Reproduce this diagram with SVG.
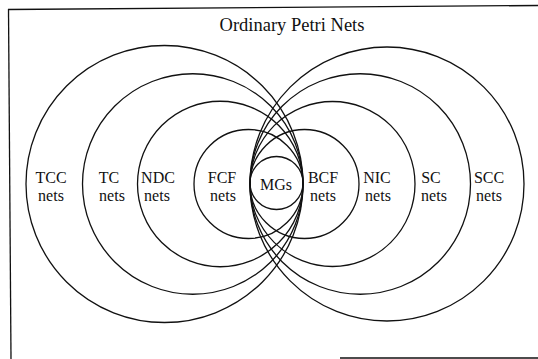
<svg xmlns="http://www.w3.org/2000/svg" width="538" height="359" viewBox="0 0 538 359" font-family="'Liberation Serif', 'DejaVu Serif', serif">
<style>
.c{fill:none;stroke:#111;stroke-width:1.3}
.f{fill:none;stroke:#111;stroke-width:1.3}
text{font-family:'Liberation Serif','DejaVu Serif',serif;font-size:16px;fill:#111;text-anchor:middle}
.t{font-size:18.5px}
</style>
<rect width="538" height="359" fill="#fff"/>
<g id="frame">
<line class="f" x1="8" y1="9.5" x2="538" y2="5.5"/>
<line class="f" x1="8.5" y1="9" x2="11" y2="359"/>
<line class="f" x1="340" y1="358" x2="538" y2="358"/>
<text class="t" x="292" y="31">Ordinary Petri Nets</text>
</g>
<g id="tcc"><circle class="c" cx="164.5" cy="184" r="138.5"/><text x="51" y="183">TCC</text><text x="51" y="201">nets</text></g>
<g id="tc"><circle class="c" cx="192.75" cy="184" r="110.25"/><text x="109" y="183">TC</text><text x="112" y="201">nets</text></g>
<g id="ndc"><circle class="c" cx="220.25" cy="184" r="82.75"/><text x="158" y="183">NDC</text><text x="157" y="201">nets</text></g>
<g id="fcf"><circle class="c" cx="248.5" cy="184" r="54.5"/><text x="222" y="183">FCF</text><text x="223" y="201">nets</text></g>
<g id="bcf"><circle class="c" cx="304.5" cy="184" r="54.5"/><text x="323" y="183">BCF</text><text x="323" y="201">nets</text></g>
<g id="nic"><circle class="c" cx="332.5" cy="184" r="82.5"/><text x="377" y="183">NIC</text><text x="378" y="201">nets</text></g>
<g id="sc"><circle class="c" cx="360.25" cy="184" r="110.25"/><text x="431" y="183">SC</text><text x="434" y="201">nets</text></g>
<g id="scc"><circle class="c" cx="387" cy="184" r="137"/><text x="489" y="183">SCC</text><text x="489" y="201">nets</text></g>
<g id="mgs"><circle class="c" cx="276.5" cy="183" r="26.5"/><text x="276" y="190">MGs</text></g>
<g id="connectors"/>
</svg>
